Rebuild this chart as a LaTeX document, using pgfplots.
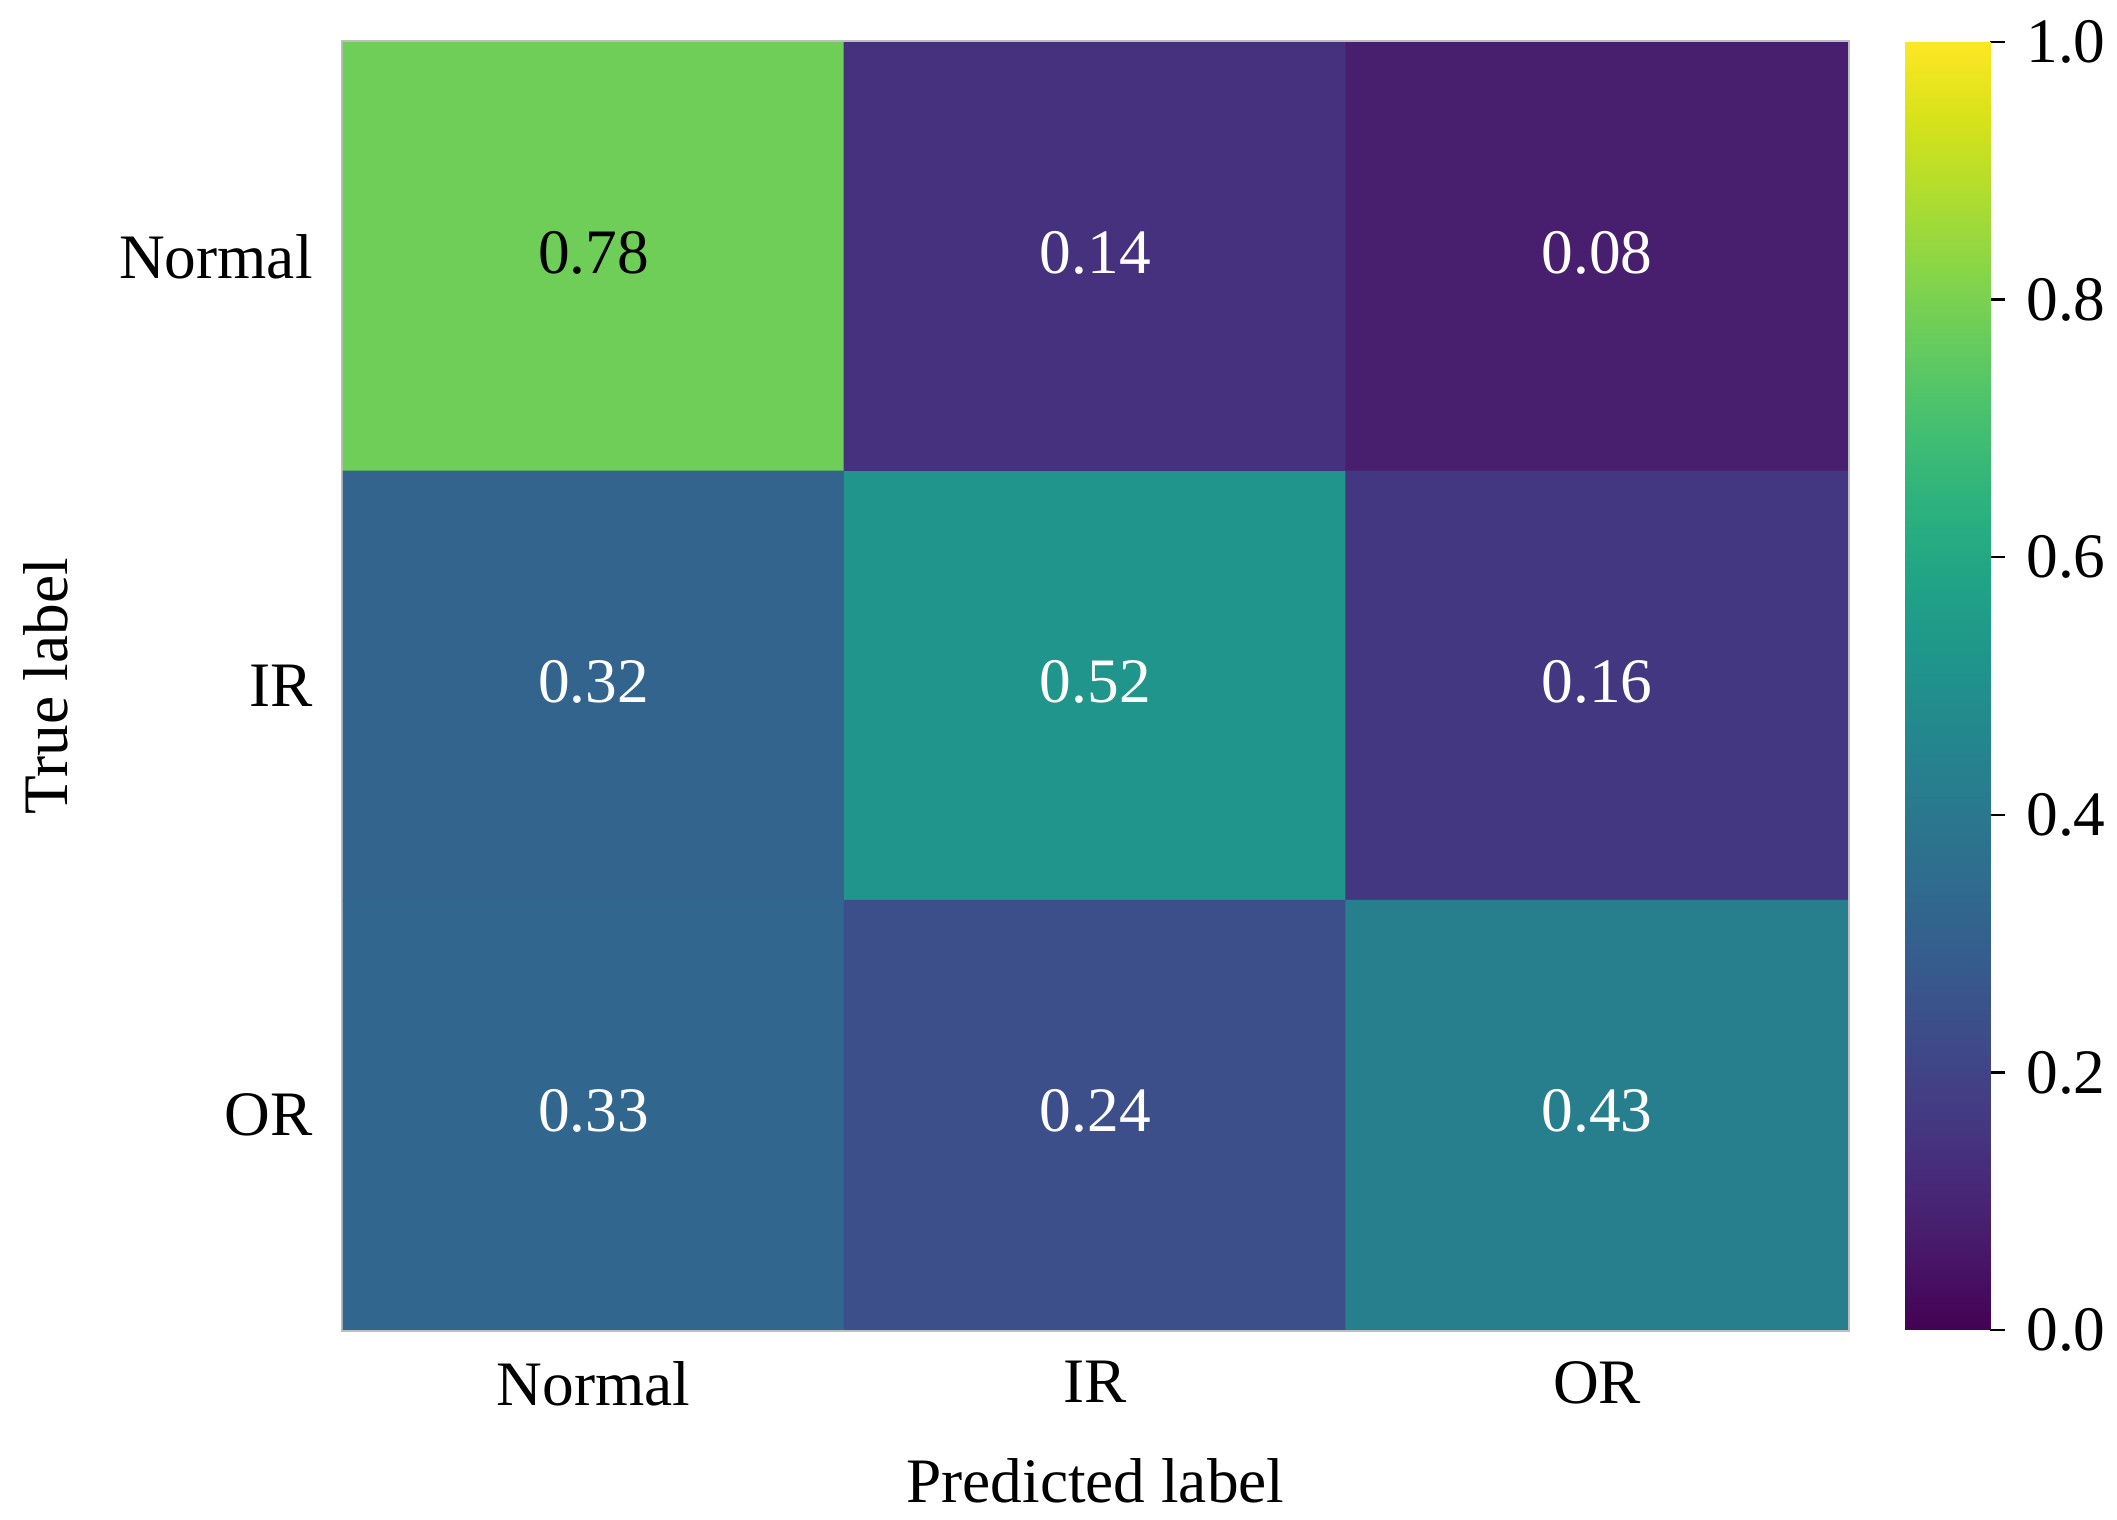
\documentclass[border=0pt]{standalone}
\usepackage{pgfplots}
\pgfplotsset{compat=1.18}
\usepackage{fontspec}
\setmainfont{Liberation Serif}

\definecolor{framegray}{RGB}{190,190,190}

\begin{document}
\fontsize{15.2}{18}\selectfont
\begin{tikzpicture}
\useasboundingbox (-82.3pt,-45.4pt) rectangle (425.8pt,319.2pt);
\begin{axis}[
  name=main,
  width=361.2pt, height=309.1pt,
  scale only axis,
  colormap name=viridis,
  point meta min=0, point meta max=1,
  xmin=-0.5, xmax=2.5, ymin=-0.5, ymax=2.5,
  y dir=reverse,
  xtick={0,1,2}, xticklabels={Normal, IR, OR},
  ytick={0,1,2}, yticklabels={Normal, IR, OR},
  major tick length=0pt,
  axis line style={framegray, line width=1pt},
  xlabel={Predicted label}, ylabel={True label},
  xticklabel style={yshift=-2.2pt},
  xlabel style={yshift=-2.3pt},
  yticklabel style={xshift=-2pt},
  ylabel style={yshift=2pt},
  /pgf/number format/assume math mode=true,
]
% confusion matrix, row-wise (true label), x = predicted
\addplot[matrix plot*, mesh/cols=3, point meta=explicit] coordinates {
  (0,0) [0.78] (1,0) [0.14] (2,0) [0.08]
  (0,1) [0.32] (1,1) [0.52] (2,1) [0.16]
  (0,2) [0.33] (1,2) [0.24] (2,2) [0.43]
};
% cell text, dark on the light cell
\addplot[only marks, mark=none, point meta=explicit,
  nodes near coords, nodes near coords align=center,
  every node near coord/.append style={black, anchor=center, yshift=1pt,
    /pgf/number format/.cd, fixed, fixed zerofill, precision=2, assume math mode=true}]
  coordinates { (0,0) [0.78] };
% cell text, white on the dark cells
\addplot[only marks, mark=none, point meta=explicit,
  nodes near coords, nodes near coords align=center,
  every node near coord/.append style={white, anchor=center, yshift=1pt,
    /pgf/number format/.cd, fixed, fixed zerofill, precision=2, assume math mode=true}]
  coordinates {
  (1,0) [0.14] (2,0) [0.08]
  (0,1) [0.32] (1,1) [0.52] (2,1) [0.16]
  (0,2) [0.33] (1,2) [0.24] (2,2) [0.43]
};
\end{axis}
% colorbar
\begin{axis}[
  at={(main.north east)}, anchor=north west, xshift=13.6pt,
  scale only axis, width=20.6pt, height=309.1pt,
  xmin=0, xmax=1, ymin=0, ymax=1,
  xtick=\empty,
  ytick={0,0.2,0.4,0.6,0.8,1.0},
  ytick pos=right, yticklabel pos=right,
  yticklabel style={/pgf/number format/.cd, fixed, fixed zerofill, precision=1, assume math mode=true},
  axis line style={draw=none},
  major tick style={black, line width=0.6pt},
  major tick length=3.4pt,
  tick align=outside,
  colormap name=viridis,
  point meta min=0, point meta max=1,
]
\addplot[surf, shader=interp, mesh/cols=2, point meta=y] coordinates {
  (0,0) (1,0)
  (0,1) (1,1)
};
\end{axis}
\end{tikzpicture}
\end{document}
